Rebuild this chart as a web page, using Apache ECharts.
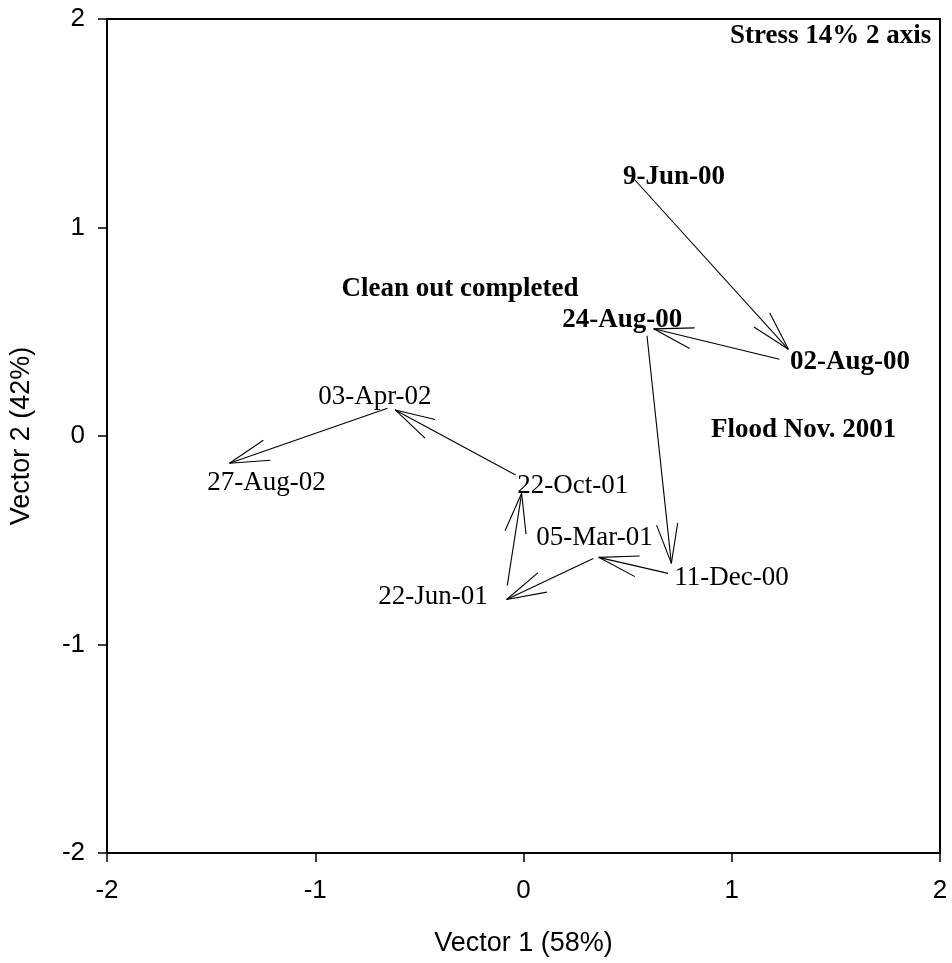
<!DOCTYPE html>
<html>
<head>
<meta charset="utf-8">
<script src="https://cdn.jsdelivr.net/npm/echarts@6/dist/echarts.min.js"></script>
<style>
  html, body { margin: 0; padding: 0; background: #ffffff; }
  #chart { width: 952px; height: 963px; }
</style>
</head>
<body>
<div id="chart"></div>
<script>
// Axis ticks shared by both ordination vectors
const axisTicks = [-2, -1, 0, 1, 2];

// Trajectory between sampling dates: each arrow runs from its tail to its head
const tailX = [0.534, 1.229, 0.593, 0.694, 0.335, -0.078, -0.038, -0.653];
const tailY = [1.229, 0.368, 0.481, -0.659, -0.587, -0.718, -0.187, 0.133];
const headX = [1.272, 0.625, 0.710, 0.361, -0.081, -0.009, -0.616, -1.412];
const headY = [0.416, 0.514, -0.611, -0.582, -0.784, -0.275, 0.125, -0.131];

// Sampling dates (regular labels)
const dateNames = ['22-Oct-01', '05-Mar-01', '11-Dec-00', '22-Jun-01', '03-Apr-02', '27-Aug-02'];
const dateX = [-0.030, 0.061, 0.724, -0.698, -0.986, -1.519];
const dateY = [-0.229, -0.475, -0.667, -0.760, 0.200, -0.211];

// Highlighted dates and events (bold labels)
const noteNames = ['9-Jun-00', '02-Aug-00', '24-Aug-00', 'Clean out completed', 'Flood Nov. 2001'];
const noteX = [0.478, 1.280, 0.186, -0.874, 0.900];
const noteY = [1.256, 0.368, 0.566, 0.717, 0.040];

// Fit statistic, right-aligned in the top corner
const stressText = 'Stress 14% 2 axis';
const stressX = 1.958;
const stressY = 1.928;

const SERIF = '"Liberation Serif", "Times New Roman", serif';
const SANS = '"Liberation Sans", Arial, sans-serif';

const arrowData = tailX.map((x, i) => [x, tailY[i], headX[i], headY[i]]);

function renderArrow(params, api) {
  const p1 = api.coord([api.value(0), api.value(1)]);
  const p2 = api.coord([api.value(2), api.value(3)]);
  const ang = Math.atan2(p1[1] - p2[1], p1[0] - p2[0]);
  const len = 41, spread = 15 * Math.PI / 180;
  const h1 = [p2[0] + len * Math.cos(ang + spread), p2[1] + len * Math.sin(ang + spread)];
  const h2 = [p2[0] + len * Math.cos(ang - spread), p2[1] + len * Math.sin(ang - spread)];
  const st = { stroke: '#000', lineWidth: 1.1, fill: null };
  return {
    type: 'group',
    children: [
      { type: 'line', shape: { x1: p1[0], y1: p1[1], x2: p2[0], y2: p2[1] }, style: st },
      { type: 'line', shape: { x1: p2[0], y1: p2[1], x2: h1[0], y2: h1[1] }, style: st },
      { type: 'line', shape: { x1: p2[0], y1: p2[1], x2: h2[0], y2: h2[1] }, style: st }
    ]
  };
}

function textSeries(names, xs, ys, weight, align) {
  return {
    type: 'custom',
    silent: true,
    z: 5,
    data: names.map((n, i) => [xs[i], ys[i], n]),
    encode: { x: 0, y: 1 },
    renderItem: function (params, api) {
      const p = api.coord([api.value(0), api.value(1)]);
      return {
        type: 'text',
        x: p[0],
        y: p[1] + 2.5,
        style: {
          text: names[params.dataIndex],
          fill: '#000',
          font: weight + ' 27px ' + SERIF,
          align: align,
          verticalAlign: 'middle'
        }
      };
    }
  };
}

const chart = echarts.init(document.getElementById('chart'), null, { renderer: 'canvas' });

const axisCommon = {
  type: 'value',
  min: axisTicks[0],
  max: axisTicks[axisTicks.length - 1],
  interval: axisTicks[1] - axisTicks[0],
  splitLine: { show: false },
  axisLine: { show: true, onZero: false, lineStyle: { color: '#000', width: 2 } },
  axisTick: { show: true, inside: false, length: 9, lineStyle: { color: '#000', width: 1.5 } },
  nameLocation: 'middle',
  nameTextStyle: { color: '#000', fontFamily: SANS, fontSize: 27 }
};

chart.setOption({
  animation: false,
  backgroundColor: '#ffffff',
  grid: {
    left: 106, right: 12, top: 19, bottom: 110,
    show: true, borderColor: '#000', borderWidth: 2, backgroundColor: 'transparent'
  },
  xAxis: Object.assign({}, axisCommon, {
    name: 'Vector 1 (58%)',
    nameGap: 77,
    axisLabel: { color: '#000', fontFamily: SANS, fontSize: 26, margin: 25 }
  }),
  yAxis: Object.assign({}, axisCommon, {
    name: 'Vector 2 (42%)',
    nameGap: 72,
    axisLabel: { color: '#000', fontFamily: SANS, fontSize: 26, margin: 22 }
  }),
  series: [
    {
      type: 'custom',
      silent: true,
      data: arrowData,
      encode: { x: [0, 2], y: [1, 3] },
      renderItem: renderArrow
    },
    textSeries(dateNames, dateX, dateY, 'normal', 'left'),
    textSeries(noteNames, noteX, noteY, 'bold', 'left'),
    textSeries([stressText], [stressX], [stressY], 'bold', 'right')
  ]
});
</script>
</body>
</html>
